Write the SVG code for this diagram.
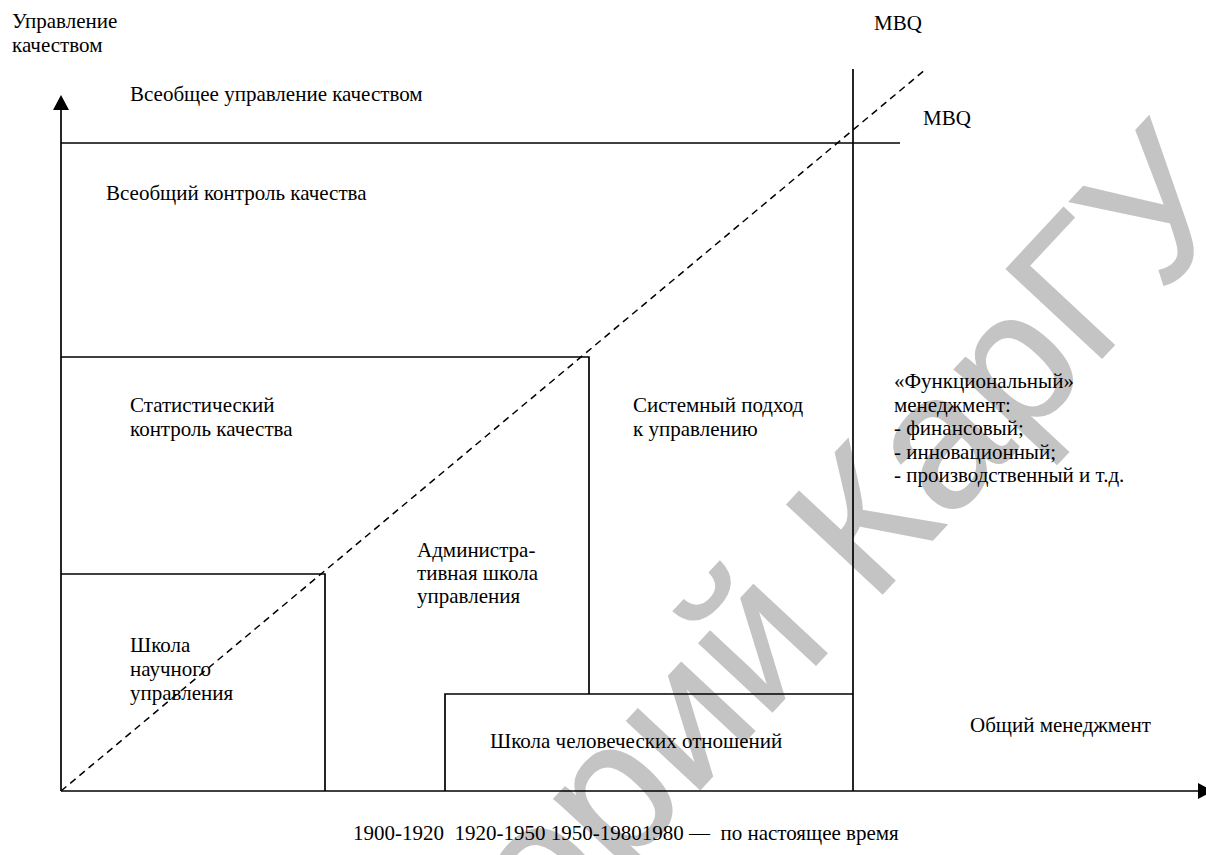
<svg xmlns="http://www.w3.org/2000/svg" width="1206" height="855" viewBox="0 0 1206 855">
<style>
.ln{stroke:#000;stroke-width:1.7;fill:none}
text.t{font-family:"Liberation Serif","Times New Roman",serif;font-size:21px;fill:#000;white-space:pre}
.wm{font-family:"Liberation Sans",Arial,sans-serif;font-size:190px;fill:#c4c4c4;stroke:#c4c4c4;stroke-width:1.5}
</style>
<rect width="1206" height="855" fill="#fff"/>
<g id="watermark">
<text class="wm" transform="translate(1244,206) rotate(-47)" text-anchor="end">Репозиторий КарГУ</text>
</g>
<g id="connectors">
<line class="ln" x1="61" y1="791" x2="61" y2="108"/>
<polygon points="61,95 53,110 69,110" fill="#000"/>
<line class="ln" x1="61" y1="791" x2="1199" y2="791"/>
<polygon points="1213,791 1198,783 1198,799" fill="#000"/>
<line class="ln" x1="61" y1="143" x2="900" y2="143"/>
<line class="ln" x1="853" y1="69" x2="853" y2="791"/>
<polyline class="ln" points="61,357 589,357 589,694"/>
<polyline class="ln" points="61,574 325,574 325,791"/>
<polyline class="ln" points="445,791 445,694 853,694"/>
<line x1="61" y1="791" x2="926" y2="69" stroke="#000" stroke-width="1.5" stroke-dasharray="7 5"/>
</g>
<g id="axis-y-label"><text class="t" x="12" y="28">Управление</text><text class="t" x="12" y="52">качеством</text></g>
<g id="mbq-top"><text class="t" x="874" y="30">MBQ</text></g>
<g id="mbq-side"><text class="t" x="923" y="125">MBQ</text></g>
<g id="tqm"><text class="t" x="130" y="101">Всеобщее управление качеством</text></g>
<g id="tqc"><text class="t" x="106" y="200">Всеобщий контроль качества</text></g>
<g id="sqc"><text class="t" x="130" y="412">Статистический</text><text class="t" x="130" y="436">контроль качества</text></g>
<g id="system"><text class="t" x="633" y="412">Системный подход</text><text class="t" x="633" y="436">к управлению</text></g>
<g id="functional"><text class="t" x="894" y="388">«Функциональный»</text><text class="t" x="894" y="412">менеджмент:</text><text class="t" x="894" y="435">- финансовый;</text><text class="t" x="894" y="459">- инновационный;</text><text class="t" x="894" y="482">- производственный и т.д.</text></g>
<g id="admin"><text class="t" x="417" y="557">Администра-</text><text class="t" x="417" y="580">тивная школа</text><text class="t" x="417" y="603">управления</text></g>
<g id="scientific"><text class="t" x="130" y="652">Школа</text><text class="t" x="130" y="676">научного</text><text class="t" x="130" y="700">управления</text></g>
<g id="human"><text class="t" x="490" y="748">Школа человеческих отношений</text></g>
<g id="general"><text class="t" x="970" y="732">Общий менеджмент</text></g>
<g id="timeline"><text class="t" x="353" y="840">1900-1920  1920-1950 1950-19801980 —  по настоящее время</text></g>
</svg>
